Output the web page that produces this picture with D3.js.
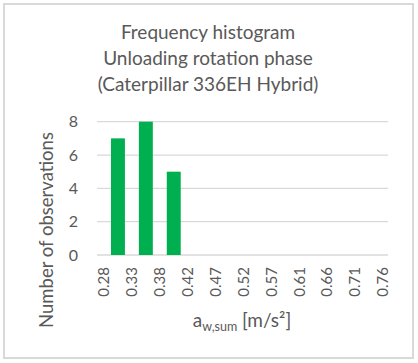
<!DOCTYPE html>
<html><head><meta charset="utf-8">
<script src="https://cdn.jsdelivr.net/npm/d3@7"></script>
<style>body{margin:0;background:#fff;} svg{display:block;font-family:Lato,"Noto Sans",sans-serif;}</style>
</head><body>
<script>
const binEdges = ["0.28","0.33","0.38","0.42","0.47","0.52","0.57","0.61","0.66","0.71","0.76"];
const counts = [7,8,5,0,0,0,0,0,0,0];
const yTicks = [0,2,4,6,8];
const titleLines = ["Frequency histogram","Unloading rotation phase","(Caterpillar 336EH Hybrid)"];

const W=418,H=363;
const svg=d3.select("body").append("svg").attr("width",W).attr("height",H);
svg.append("rect").attr("x",4).attr("y",4).attr("width",409).attr("height",354)
  .attr("fill","#fff").attr("stroke","#d9d9d9").attr("stroke-width",2);

const x=d3.scaleLinear().domain([0,binEdges.length-1]).range([104,383]);
const step=x(1)-x(0);
const y=d3.scaleLinear().domain([0,8]).range([255,121.7]);
const gx0=97,gx1=388;

svg.append("g").selectAll("line").data(yTicks).join("line")
  .attr("x1",gx0).attr("x2",gx1).attr("y1",d=>y(d)).attr("y2",d=>y(d))
  .attr("stroke","#d9d9d9").attr("stroke-width",1.3);

svg.append("g").selectAll("rect").data(counts).join("rect")
  .attr("x",(d,i)=>x(i)+step/2-step*0.25).attr("width",step*0.5)
  .attr("y",d=>y(d)).attr("height",d=>y(0)-y(d)).attr("fill","#00b050");

svg.append("g").selectAll("text").data(yTicks).join("text")
  .attr("x",78).attr("y",d=>y(d)).attr("dy","0.35em").attr("text-anchor","end")
  .attr("font-size",16).attr("fill","#595959").text(d=>d);

svg.append("g").selectAll("text").data(binEdges).join("text")
  .attr("transform",(d,i)=>`translate(${x(i)},267) rotate(-90)`)
  .attr("dy","0.35em").attr("text-anchor","end")
  .attr("font-size",15).attr("fill","#595959").text(d=>d);

svg.append("text").attr("transform","translate(47,230) rotate(-90)")
  .attr("text-anchor","middle").attr("dy","0.35em")
  .attr("font-size",18.5).attr("fill","#595959").text("Number of observations");

const xt=svg.append("text").attr("x",242).attr("y",327).attr("text-anchor","middle")
  .attr("font-size",19).attr("fill","#595959");
xt.append("tspan").text("a");
xt.append("tspan").attr("font-size",12.5).attr("dy",4).text("w,sum");
xt.append("tspan").attr("dy",-4).text(" [m/s²]");

svg.append("g").selectAll("text").data(titleLines).join("text")
  .attr("x",208).attr("y",(d,i)=>39+i*26).attr("text-anchor","middle")
  .attr("font-size",19).attr("fill","#595959").text(d=>d);
</script>
</body></html>
